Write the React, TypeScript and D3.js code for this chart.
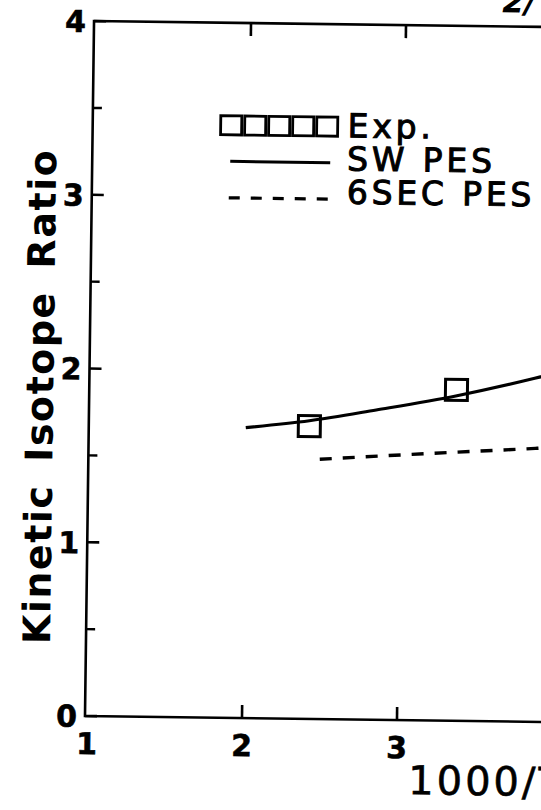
import React from 'react';
import * as d3 from 'd3';

// values
const xTicks = [1, 2, 3];
const yTicks = [0, 1, 2, 3, 4];
const yMinorTicks = [0.5, 1.5, 2.5, 3.5];

const expX = [2.41, 3.356];
const expY = [1.685, 1.905];

const swX = [2.0, 2.41, 2.84, 3.36, 3.86, 4.0];
const swY = [1.672, 1.716, 1.783, 1.871, 1.977, 2.01];

const secX = [2.48, 3.21, 3.87, 4.0];
const secY = [1.495, 1.538, 1.574, 1.582];

const legendLabels = ['Exp.', 'SW PES', '6SEC PES'];

const W = 541;
const H = 810;
const FONT = '"DejaVu Sans", sans-serif';

const App = () => {
  const innerH = 695;
  const innerW = 700;
  const tilt = 0.745; // the scan is slightly rotated

  const x = d3.scaleLinear().domain([1, 5]).range([2, 622]);
  const y = d3.scaleLinear().domain([0, 4]).range([innerH, 0]);

  const line = d3
    .line<[number, number]>()
    .x((d) => x(d[0]))
    .y((d) => y(d[1]))
    .curve(d3.curveMonotoneX);

  const sw = swX.map((v, i) => [v, swY[i]] as [number, number]);
  const sec = secX.map((v, i) => [v, secY[i]] as [number, number]);

  return (
    <svg
      width={W}
      height={H}
      style={{ position: 'absolute', left: 0, top: 0, background: '#fff' }}
    >
      <rect width={W} height={H} fill="#fff" />
      <g transform={`rotate(${tilt},85,716) translate(85,21)`}>
        {/* frame */}
        <path
          d={`M${innerW},0H0V${innerH}H${innerW}`}
          fill="none"
          stroke="#000"
          strokeWidth={2.6}
        />

        {/* y ticks */}
        {yTicks.map((t) => (
          <line key={'ym' + t} x1={0} x2={12} y1={y(t)} y2={y(t)} stroke="#000" strokeWidth={2.6} />
        ))}
        {yMinorTicks.map((t) => (
          <line key={'yn' + t} x1={0} x2={9} y1={y(t)} y2={y(t)} stroke="#000" strokeWidth={2.4} />
        ))}
        {yTicks.map((t) => (
          <text
            key={'yl' + t}
            x={-8}
            y={y(t) + 11}
            textAnchor="end"
            fontFamily={FONT}
            fontWeight="bold"
            fontSize={30}
            stroke="#000"
            strokeWidth={0.6}
          >
            {t}
          </text>
        ))}

        {/* x ticks, bottom and top */}
        {[2, 3, 4].map((t) => (
          <g key={'xt' + t}>
            <line x1={x(t)} x2={x(t)} y1={innerH} y2={innerH - 13} stroke="#000" strokeWidth={2.6} />
            <line x1={x(t)} x2={x(t)} y1={0} y2={13} stroke="#000" strokeWidth={2.6} />
          </g>
        ))}
        {xTicks.map((t) => (
          <text
            key={'xl' + t}
            x={x(t)}
            y={innerH + 38}
            textAnchor="middle"
            fontFamily={FONT}
            fontWeight="bold"
            fontSize={30}
            stroke="#000"
            strokeWidth={0.6}
          >
            {t}
          </text>
        ))}

        {/* axis titles */}
        <text
          transform={`translate(-36,376) rotate(-90)`}
          textAnchor="middle"
          fontFamily={FONT}
          fontWeight="bold"
          fontSize={38}
          letterSpacing={1.5}
          wordSpacing={8}
        >
          Kinetic Isotope Ratio
        </text>
        <text
          x={324}
          y={769}
          fontFamily={FONT}
          fontSize={40}
          letterSpacing={3}
          stroke="#000"
          strokeWidth={0.6}
        >
          1000/T (1/K)
        </text>
        <text
          x={408}
          y={-14}
          fontFamily={FONT}
          fontWeight="bold"
          fontStyle="italic"
          fontSize={32}
        >
          2/
        </text>

        {/* data */}
        <path d={line(sw) ?? ''} fill="none" stroke="#000" strokeWidth={3.2} />
        <path
          d={line(sec) ?? ''}
          fill="none"
          stroke="#000"
          strokeWidth={3.4}
          strokeDasharray="12 11"
        />
        {expX.map((v, i) => (
          <rect
            key={'e' + i}
            x={x(v) - 11}
            y={y(expY[i]) - 10.5}
            width={22}
            height={21}
            fill="none"
            stroke="#000"
            strokeWidth={3}
          />
        ))}

        {/* legend */}
        <g>
          {d3.range(5).map((k) => (
            <rect
              key={'ls' + k}
              x={128 + k * 24}
              y={93}
              width={21}
              height={19}
              fill="none"
              stroke="#000"
              strokeWidth={2.8}
            />
          ))}
          <line x1={138} x2={238} y1={138.5} y2={138.5} stroke="#000" strokeWidth={3} />
          <line
            x1={137}
            x2={236}
            y1={175}
            y2={175}
            stroke="#000"
            strokeWidth={3.2}
            strokeDasharray="11 11"
          />
          {legendLabels.map((s, i) => (
            <text
              key={s}
              x={255}
              y={113 + i * 33.2}
              fontFamily={FONT}
              fontSize={33}
              letterSpacing={3.8}
              stroke="#000"
              strokeWidth={1}
            >
              {s}
            </text>
          ))}
        </g>
      </g>
    </svg>
  );
};

export default App;
